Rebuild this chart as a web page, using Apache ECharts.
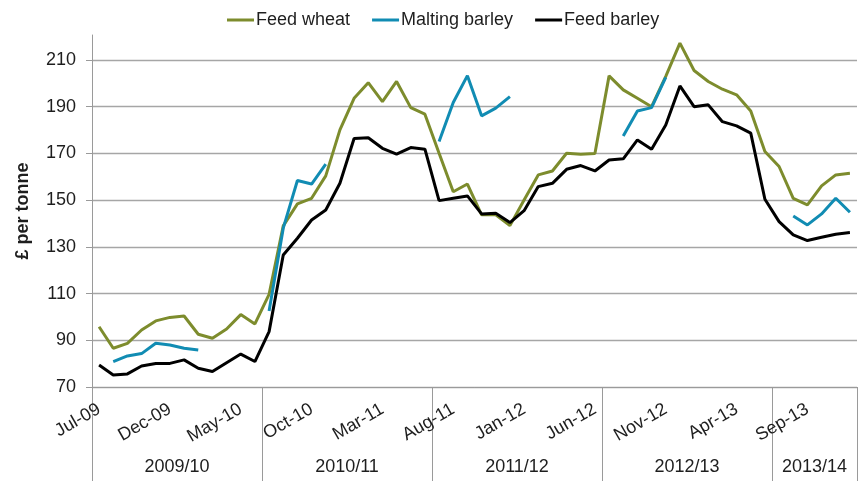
<!DOCTYPE html>
<html>
<head>
<meta charset="utf-8">
<script src="https://cdn.jsdelivr.net/npm/echarts@6/dist/echarts.min.js"></script>
<style>
html,body{margin:0;padding:0;background:#fff;}
#chart{width:860px;height:481px;}
</style>
</head>
<body>
<div id="chart"></div>
<script>
var months = ['Jul-09','Aug-09','Sep-09','Oct-09','Nov-09','Dec-09','Jan-10','Feb-10','Mar-10','Apr-10','May-10','Jun-10',
  'Jul-10','Aug-10','Sep-10','Oct-10','Nov-10','Dec-10','Jan-11','Feb-11','Mar-11','Apr-11','May-11','Jun-11',
  'Jul-11','Aug-11','Sep-11','Oct-11','Nov-11','Dec-11','Jan-12','Feb-12','Mar-12','Apr-12','May-12','Jun-12',
  'Jul-12','Aug-12','Sep-12','Oct-12','Nov-12','Dec-12','Jan-13','Feb-13','Mar-13','Apr-13','May-13','Jun-13',
  'Jul-13','Aug-13','Sep-13','Oct-13','Nov-13','Dec-13'];

var seasons = ['2009/10','2010/11','2011/12','2012/13','2013/14'];
var seasonMonths = [12,12,12,12,6];

var feedWheat = [95.8,86.6,88.7,94.4,98.3,99.8,100.4,92.6,90.9,94.8,101.0,97.0,
  109.7,139.0,148.4,150.8,160.4,180.1,193.6,200.3,192.2,200.8,189.6,186.8,
  170.1,153.6,156.9,143.7,143.7,139.1,150.1,160.8,162.5,170.1,169.7,170.0,
  203.2,197.2,193.6,190.0,203.0,217.2,205.5,200.8,197.5,195.1,188.2,170.8,
  164.4,150.8,148.0,156.1,160.8,161.5];

var maltingBarley = [null,80.9,83.3,84.3,88.7,88.0,86.6,85.8,null,null,null,null,
  102.5,138.0,158.4,156.9,165.4,null,null,null,null,null,null,null,
  175.1,191.8,203.3,186.1,189.4,194.3,null,null,null,null,null,null,
  null,177.5,188.2,189.6,202.6,null,null,null,null,null,null,null,
  null,143.2,139.4,144.1,150.8,144.8];

var feedBarley = [79.4,75.1,75.6,79.0,80.1,80.1,81.6,78.0,76.6,80.4,84.1,80.9,
  93.7,126.5,133.7,141.5,145.8,157.2,176.4,176.7,172.2,169.7,172.5,171.8,
  149.8,150.8,151.8,144.1,144.4,140.4,145.5,155.8,157.2,163.2,164.8,162.5,
  167.2,167.7,175.8,171.8,182.2,198.9,190.0,190.8,183.6,181.8,178.7,150.4,
  140.8,135.1,132.7,134.1,135.4,136.1];

var seriesNames = ['Feed wheat','Malting barley','Feed barley'];
var seriesColors = ['#7d8c2d','#118cb3','#000000'];

// season label positions (centre of each season, in month units)
var seasonCentre = {};
var acc = 0;
for (var s = 0; s < seasons.length; s++) {
  seasonCentre[acc + seasonMonths[s] / 2] = seasons[s];
  acc += seasonMonths[s];
}

var FONT = 'Liberation Sans, Arial, sans-serif';
var TXT = '#1e1e1e';
var GRIDC = '#a6a6a6';
var AXISC = '#9a9a9a';

var chart = echarts.init(document.getElementById('chart'), null, {renderer: 'canvas'});
chart.setOption({
  animation: false,
  backgroundColor: '#fff',
  textStyle: {fontFamily: FONT},
  legend: {
    left: 222, top: 6,
    icon: 'rect',
    itemWidth: 27, itemHeight: 3, itemGap: 22,
    textStyle: {fontSize: 18, color: TXT, fontFamily: FONT, padding: [0,0,0,-3]},
    data: seriesNames
  },
  grid: [
    {left: 92, top: 60, width: 771, height: 327},
    {left: 92, top: 35, width: 771, height: 352}
  ],
  xAxis: [
    {
      type: 'category', gridIndex: 0, data: months, boundaryGap: true,
      axisLine: {show: true, lineStyle: {color: AXISC, width: 1}},
      axisTick: {show: false},
      axisLabel: {interval: 4, rotate: 30, fontSize: 18, color: TXT, fontFamily: FONT, margin: 21},
      splitLine: {show: false}
    },
    {
      type: 'category', gridIndex: 0, data: months, boundaryGap: true, position: 'bottom',
      axisLine: {show: false},
      axisTick: {show: true, length: 94, interval: function (i) {
        var b = 0;
        for (var k = 0; k < seasonMonths.length; k++) { if (i === b) return true; b += seasonMonths[k]; }
        return false;
      }, lineStyle: {color: AXISC, width: 1}},
      axisLabel: {show: false},
      splitLine: {show: false}
    },
    {
      type: 'value', gridIndex: 0, min: 0, max: months.length, interval: 1, position: 'bottom',
      axisLine: {show: false}, axisTick: {show: false}, splitLine: {show: false},
      axisLabel: {
        show: true, fontSize: 18, color: TXT, fontFamily: FONT, margin: 71, hideOverlap: false,
        showMinLabel: true, showMaxLabel: true,
        formatter: function (v) { return seasonCentre[v] || ''; }
      }
    },
    {type: 'value', gridIndex: 1, show: false, min: 0, max: 1}
  ],
  yAxis: [
    {
      type: 'value', gridIndex: 0, min: 70, max: 210, interval: 20,
      axisLine: {show: true, lineStyle: {color: AXISC, width: 1}},
      axisTick: {show: true, length: 6, lineStyle: {color: AXISC}},
      axisLabel: {fontSize: 18, color: TXT, fontFamily: FONT, margin: 16},
      splitLine: {show: true, lineStyle: {color: GRIDC, width: 1.3}}
    },
    {
      type: 'value', gridIndex: 1, min: 0, max: 1,
      axisLine: {show: true, lineStyle: {color: AXISC, width: 1}},
      axisTick: {show: false}, axisLabel: {show: false}, splitLine: {show: false},
      name: '£ per tonne', nameLocation: 'middle', nameGap: 60,
      nameTextStyle: {fontSize: 18, fontWeight: 'bold', color: TXT, fontFamily: FONT}
    }
  ],
  series: [
    {name: seriesNames[0], type: 'line', data: feedWheat, xAxisIndex: 0, yAxisIndex: 0, clip: false,
     symbol: 'none', connectNulls: false, color: seriesColors[0], lineStyle: {width: 3, color: seriesColors[0]}},
    {name: seriesNames[1], type: 'line', data: maltingBarley, xAxisIndex: 0, yAxisIndex: 0, clip: false,
     symbol: 'none', connectNulls: false, color: seriesColors[1], lineStyle: {width: 3, color: seriesColors[1]}},
    {name: seriesNames[2], type: 'line', data: feedBarley, xAxisIndex: 0, yAxisIndex: 0, clip: false,
     symbol: 'none', connectNulls: false, color: seriesColors[2], lineStyle: {width: 3, color: seriesColors[2]}}
  ]
});
</script>
</body>
</html>
